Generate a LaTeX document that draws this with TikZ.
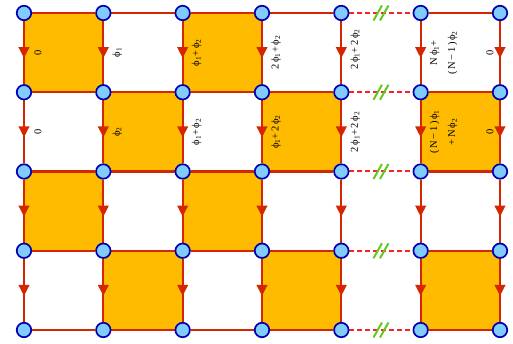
\documentclass[tikz,border=0pt]{standalone}
\usepackage{fontspec}
\setmainfont{Liberation Serif}
\newfontfamily\labfont[LetterSpace=15]{Liberation Serif}
\usetikzlibrary{arrows.meta,decorations.markings,backgrounds}
\definecolor{bondred}{RGB}{212,38,0}
\definecolor{cutred}{RGB}{250,35,35}
\definecolor{cellorange}{RGB}{255,187,0}
\definecolor{siteblue}{RGB}{128,204,255}
\definecolor{sitering}{RGB}{0,0,175}
\definecolor{cutgreen}{RGB}{100,200,30}
\newcommand\ph[1]{ϕ\textsubscript{#1}}
\begin{document}
\begin{tikzpicture}[x=79.33pt,y=79.25pt,
  site/.style={circle,draw=sitering,fill=siteblue,line width=1.7pt,minimum size=14.5pt,inner sep=0pt},
  bond/.style={draw=bondred,line width=2.3pt},
  downbond/.style={bond,postaction={decorate},
    decoration={markings,mark=at position 0.5 with {\arrow[xshift=5.5pt]{Triangle[width=10.5pt,length=11pt]}}}},
  cutbond/.style={draw=cutred,line width=2pt,dash pattern=on 5pt off 3pt},
  cutmark/.style={draw=cutgreen,line width=2pt},
  cell/.style={fill=cellorange},
  lab/.style={rotate=90,align=center,inner sep=0pt,font=\labfont\fontsize{10.5}{12}\selectfont}]
%
% Rahmen wie im Original
\useasboundingbox (-24pt,13pt) rectangle (489pt,-331pt);
%
% Gitterpunkte
\foreach \c in {0,...,6}
  \foreach \r in {0,...,4}
    \node[site] (n-\c-\r) at (\c,-\r) {};
%
\begin{scope}[on background layer]
  % gefuellte Plaketten (Spalte 4 ist die Luecke)
  \foreach \c/\r in {0/0,2/0,1/1,3/1,5/1,0/2,2/2,1/3,3/3,5/3}
    \fill[cell] (\c,-\r) rectangle ++(1,-1);
  % senkrechte Kanten mit Pfeil
  \foreach \c in {0,...,6}
    \foreach \r in {0,...,3} {
      \pgfmathtruncatemacro\rr{\r+1}
      \draw[downbond] (n-\c-\r) -- (n-\c-\rr);
    }
  % waagrechte Kanten
  \foreach \r in {0,...,4} {
    \foreach \c in {0,1,2,3,5} {
      \pgfmathtruncatemacro\cc{\c+1}
      \draw[bond] (n-\c-\r) -- (n-\cc-\r);
    }
    % unterbrochene Kante mit Schnittzeichen
    \draw[cutbond] (n-4-\r) -- coordinate[pos=0.5] (g-\r) (n-5-\r);
    \draw[cutmark] ([shift={(-7.5pt,-7.5pt)}]g-\r) -- ++(8.5pt,15pt)
                   ([shift={(-1pt,-7.5pt)}]g-\r) -- ++(8.5pt,15pt);
  }
\end{scope}
%
% Beschriftung, erste Zeile
\node[lab] (l-0-0) at ([xshift=14pt]0,-0.5) {0};
\node[lab] (l-1-0) at ([xshift=14pt]1,-0.5) {\ph1};
\node[lab] (l-2-0) at ([xshift=14pt]2,-0.5) {\ph1+\ph2};
\node[lab] (l-3-0) at ([xshift=14pt]3,-0.5) {2\ph1+\ph2};
\node[lab] (l-4-0) at ([xshift=14pt]4,-0.46) {2\ph1+2\ph2};
\node[lab] (l-5-0) at ([xshift=23pt]5,-0.5) {N\ph1+\\[6pt](N−1)\ph2};
\node[lab] (l-6-0) at ([xshift=-10pt]6,-0.5) {0};
% zweite Zeile
\node[lab] (l-0-1) at ([xshift=14pt]0,-1.5) {0};
\node[lab] (l-1-1) at ([xshift=14pt]1,-1.5) {\ph2};
\node[lab] (l-2-1) at ([xshift=14pt]2,-1.5) {\ph1+\ph2};
\node[lab] (l-3-1) at ([xshift=14pt]3,-1.5) {\ph1+2\ph2};
\node[lab] (l-4-1) at ([xshift=14pt]4,-1.5) {2\ph1+2\ph2};
\node[lab] (l-5-1) at ([xshift=23pt]5,-1.5) {(N−1)\ph1\\[6pt]+N\ph2};
\node[lab] (l-6-1) at ([xshift=-10pt]6,-1.5) {0};
\end{tikzpicture}
\end{document}
